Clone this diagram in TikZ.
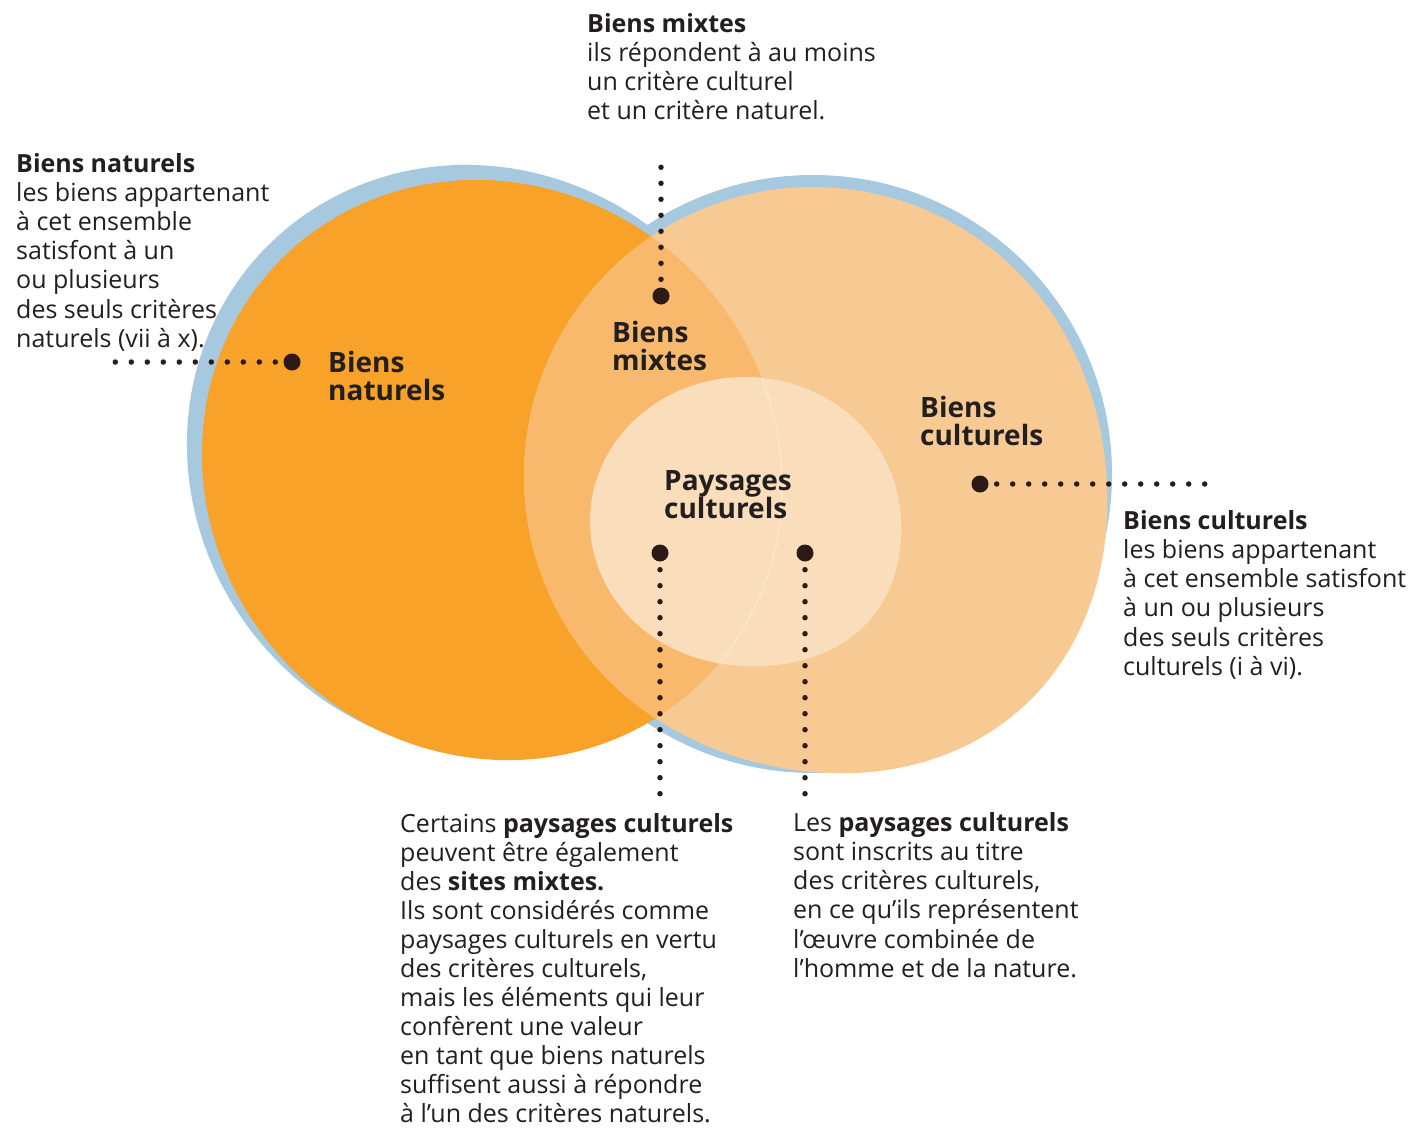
\documentclass[tikz,border=0pt]{standalone}
\usepackage{fontspec}
\setmainfont{Open Sans}

\definecolor{ink}{HTML}{231F20}
\definecolor{dotc}{HTML}{2B1A16}
\definecolor{rimblue}{HTML}{A7C9DF}
\definecolor{natfill}{HTML}{F9A22A}
\definecolor{cultfill}{HTML}{F7C993}
\definecolor{mixfill}{HTML}{F8B96C}
\definecolor{landfill}{HTML}{FADDBA}

% the three sets, drawn in picture units (1pt = 1px of the sketch)
\newcommand\natshape[3]{plot[domain=0:357, samples=120, smooth cycle]
  ({#1+(298+#3)*cos(\x)*cos(45)-(282+#3)*sin(\x)*sin(45)},
   {#2+(298+#3)*cos(\x)*sin(45)+(282+#3)*sin(\x)*cos(45)})}
\newcommand\cultshape{plot[domain=0:357, samples=120, smooth cycle]
  ({813+289*(1+0.08*(max(0.0001,cos(\x-48)))^4)*cos(\x)},
   {476+289*(1+0.08*(max(0.0001,cos(\x-48)))^4)*sin(\x)})}
\newcommand\landshape{plot[domain=0:357, samples=120, smooth cycle]
  ({745+155*(1+0.06*(max(0.0001,cos(\x-45)))^6)*cos(\x)},
   {521+144*(1+0.06*(max(0.0001,cos(\x-45)))^6)*sin(\x)})}

\tikzset{
  txt/.style={font=\fontsize{25}{29.2}\selectfont, align=left, inner sep=0pt,
    anchor=north west, text=ink},
  lbl/.style={font=\fontsize{28}{28.5}\selectfont\bfseries, align=left,
    inner sep=0pt, anchor=north west, text=ink},
  bigdot/.style={circle, fill=dotc, inner sep=0pt, minimum size=17pt},
  dotline/.style={draw=dotc, line width=5.5pt, line cap=round,
    dash pattern=on 0pt off 16pt, dash phase=8pt},
}

\begin{document}
\begin{tikzpicture}[x=1pt, y=-1pt]
\useasboundingbox (0,0) rectangle (1416,1127);
\fill[white] (0,0) rectangle (1416,1127);

% rims, sets, overlap
\fill[rimblue] \natshape{482}{460}{5};
\fill[rimblue] (813,474) circle (299);
\fill[natfill] \natshape{492}{470}{0};
\fill[cultfill] \cultshape;
\begin{scope}
  \clip \natshape{492}{470}{0};
  \fill[mixfill] \cultshape;
\end{scope}
\fill[landfill] \landshape;
\begin{scope}
  \clip \landshape;
  \draw[white, opacity=.35, line width=1.2pt] \natshape{492}{470}{0};
\end{scope}

% set names
\node[lbl] (lnat) at (328,351) {Biens\\naturels};
\node[lbl] (lmix) at (612,321) {Biens\\mixtes};
\node[lbl] (lcult) at (920,396) {Biens\\culturels};
\node[lbl] (lland) at (664,470) {Paysages\\culturels};

% pointers
\node[bigdot] (dnat) at (292,362) {};
\node[bigdot] (dmix) at (661,296) {};
\node[bigdot] (dcult) at (980,484) {};
\node[bigdot] (dlandA) at (660,553) {};
\node[bigdot] (dlandB) at (805,553) {};
\coordinate (enat) at (108,362);
\coordinate (emix) at (661,160);
\coordinate (ecult) at (1214,484);
\coordinate (elandA) at (660,800);
\coordinate (elandB) at (805,800);
\draw[dotline] (dnat) -- (enat);
\draw[dotline] (dmix) -- (emix);
\draw[dotline] (dcult) -- (ecult);
\draw[dotline] (dlandA) -- (elandA);
\draw[dotline] (dlandB) -- (elandB);

% notes
\node[txt] (tnat) at (16,153) {\textbf{Biens naturels}\\les biens appartenant\\à cet ensemble\\satisfont à un\\ou plusieurs\\des seuls critères\\naturels (vii à x).};
\node[txt] (tmix) at (587,13) {\textbf{Biens mixtes}\\ils répondent à au moins\\un critère culturel\\et un critère naturel.};
\node[txt] (tcult) at (1123,510) {\textbf{Biens culturels}\\les biens appartenant\\à cet ensemble satisfont\\à un ou plusieurs\\des seuls critères\\culturels (i à vi).};
\node[txt, font=\fontsize{25}{29}\selectfont] (tlandA) at (400,813) {Certains \textbf{paysages culturels}\\peuvent être également\\des \textbf{sites mixtes.}\\Ils sont considérés comme\\paysages culturels en vertu\\des critères culturels,\\mais les éléments qui leur\\confèrent une valeur\\en tant que biens naturels\\suffisent aussi à répondre\\à l’un des critères naturels.};
\node[txt] (tlandB) at (793,812) {Les \textbf{paysages culturels}\\sont inscrits au titre\\des critères culturels,\\en ce qu’ils représentent\\l’œuvre combinée de\\l’homme et de la nature.};
\end{tikzpicture}
\end{document}
